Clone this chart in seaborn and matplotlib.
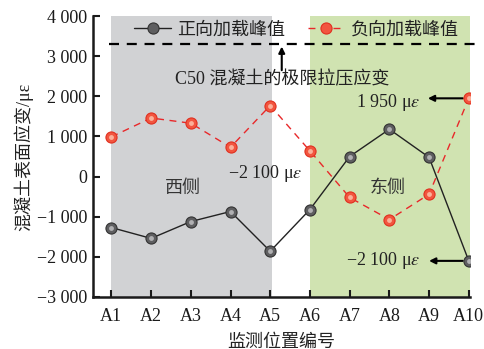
import numpy as np
import pandas as pd
import matplotlib
matplotlib.use("Agg")
import matplotlib.pyplot as plt
import seaborn as sns

# Monitoring positions and peak surface strains (με)
positions = ["A1", "A2", "A3", "A4", "A5", "A6", "A7", "A8", "A9", "A10"]
positive_peak = [-1270, -1540, -1120, -870, -1860, -820, 500, 1180, 480, -2100]
negative_peak = [990, 1460, 1330, 730, 1770, 640, -520, -1070, -440, 1950]
strain_limit = 3300
yticks = [-3000, -2000, -1000, 0, 1000, 2000, 3000, 4000]
ytick_labels = ["−3 000", "−2 000", "−1 000", "0", "1 000", "2 000", "3 000", "4 000"]

sns.set_theme(style="ticks")
plt.rcParams["font.family"] = ["Liberation Serif", "Noto Sans CJK SC"]
plt.rcParams["mathtext.fontset"] = "stix"
plt.rcParams["axes.unicode_minus"] = True

FS = 13
TXT = "#222222"

fig = plt.figure(figsize=(4.85, 3.49), dpi=100)
ax = fig.add_axes([0.192, 0.149, 0.777, 0.805])

idx = np.arange(len(positions))
df = pd.DataFrame({"pos": idx, "pos_peak": positive_peak, "neg_peak": negative_peak})

# West / east side shading
ax.axvspan(0, 4.04, color="#d1d2d4", zorder=0, lw=0)
ax.axvspan(5, 9.05, color="#d0e3b1", zorder=0, lw=0)

sns.lineplot(data=df, x="pos", y="pos_peak", ax=ax, color="#222222", lw=1.0,
             marker="o", markersize=8, markerfacecolor="#5e5e60",
             markeredgecolor="#333333", markeredgewidth=0.8,
             label="正向加载峰值", zorder=4)
sns.lineplot(data=df, x="pos", y="neg_peak", ax=ax, color="#e8282a", lw=1.0,
             dashes=(5, 4), marker="o", markersize=8,
             markerfacecolor="#f2553f", markeredgecolor="#e03020",
             markeredgewidth=0.8, label="负向加载峰值", zorder=4)
# sphere highlights
ax.plot(idx, positive_peak, ls="none", marker="o", ms=3.5, mfc="#b0b0b2",
        mec="none", zorder=5)
ax.plot(idx, negative_peak, ls="none", marker="o", ms=3.5, mfc="#fbb09a",
        mec="none", zorder=5)

# Ultimate tensile/compressive strain of C50 concrete
ax.plot([-0.05, 9.25], [strain_limit, strain_limit], color="black", lw=1.6,
        dashes=(4.5, 3.5), clip_on=False, zorder=3)
arrow = dict(arrowstyle="-|>", color="black", lw=1.5, mutation_scale=9,
             shrinkA=0, shrinkB=0)
ax.annotate("", xy=(4.29, strain_limit - 60), xytext=(4.29, 2650),
            arrowprops=arrow)
ax.text(4.29, 2420, "C50 混凝土的极限拉压应变", ha="center", va="center",
        fontsize=FS, color=TXT)

# Peak value callouts
ax.annotate("", xy=(7.97, negative_peak[-1]), xytext=(8.85, negative_peak[-1]),
            arrowprops=arrow)
ax.text(7.78, 1840, "1 950 μ$\\varepsilon$", ha="right", va="center",
        fontsize=FS, color=TXT)
ax.annotate("", xy=(8.0, positive_peak[-1]), xytext=(8.85, positive_peak[-1]),
            arrowprops=arrow)
ax.text(7.78, -2100, "−2 100 μ$\\varepsilon$", ha="right", va="center",
        fontsize=FS, color=TXT)
ax.text(4.82, 80, "−2 100 μ$\\varepsilon$", ha="right", va="center",
        fontsize=FS, color=TXT)

ax.text(1.79, -290, "西侧", ha="center", va="center", fontsize=FS, color="#333333")
ax.text(6.96, -290, "东侧", ha="center", va="center", fontsize=FS, color="#333333")

ax.set_xlim(-0.46, 9.03)
ax.set_ylim(-3000, 4000)
ax.set_xticks(idx)
ax.set_xticklabels(positions)
ax.set_yticks(yticks)
ax.set_yticklabels(ytick_labels)
ax.tick_params(direction="in", length=5, width=1.5, labelsize=FS,
               colors="#1a1a1a", pad=4)
ax.tick_params(axis="x", pad=8)
for side in ["left", "bottom"]:
    ax.spines[side].set_linewidth(1.8)
    ax.spines[side].set_color("#1a1a1a")
sns.despine(ax=ax)

ax.set_xlabel("监测位置编号", fontsize=FS, labelpad=6, color=TXT)
ax.set_ylabel("混凝土表面应变/με", fontsize=FS, labelpad=3, color=TXT)

leg = ax.legend(loc="center", bbox_to_anchor=(0.54, 0.95), ncol=2,
                frameon=False, fontsize=FS, handlelength=2.0,
                handletextpad=0.35, columnspacing=1.3, borderaxespad=0,
                borderpad=0)
for h in leg.get_lines():
    h.set_markersize(8)
for t in leg.get_texts():
    t.set_color(TXT)

fig.savefig("out.png", dpi=100)
